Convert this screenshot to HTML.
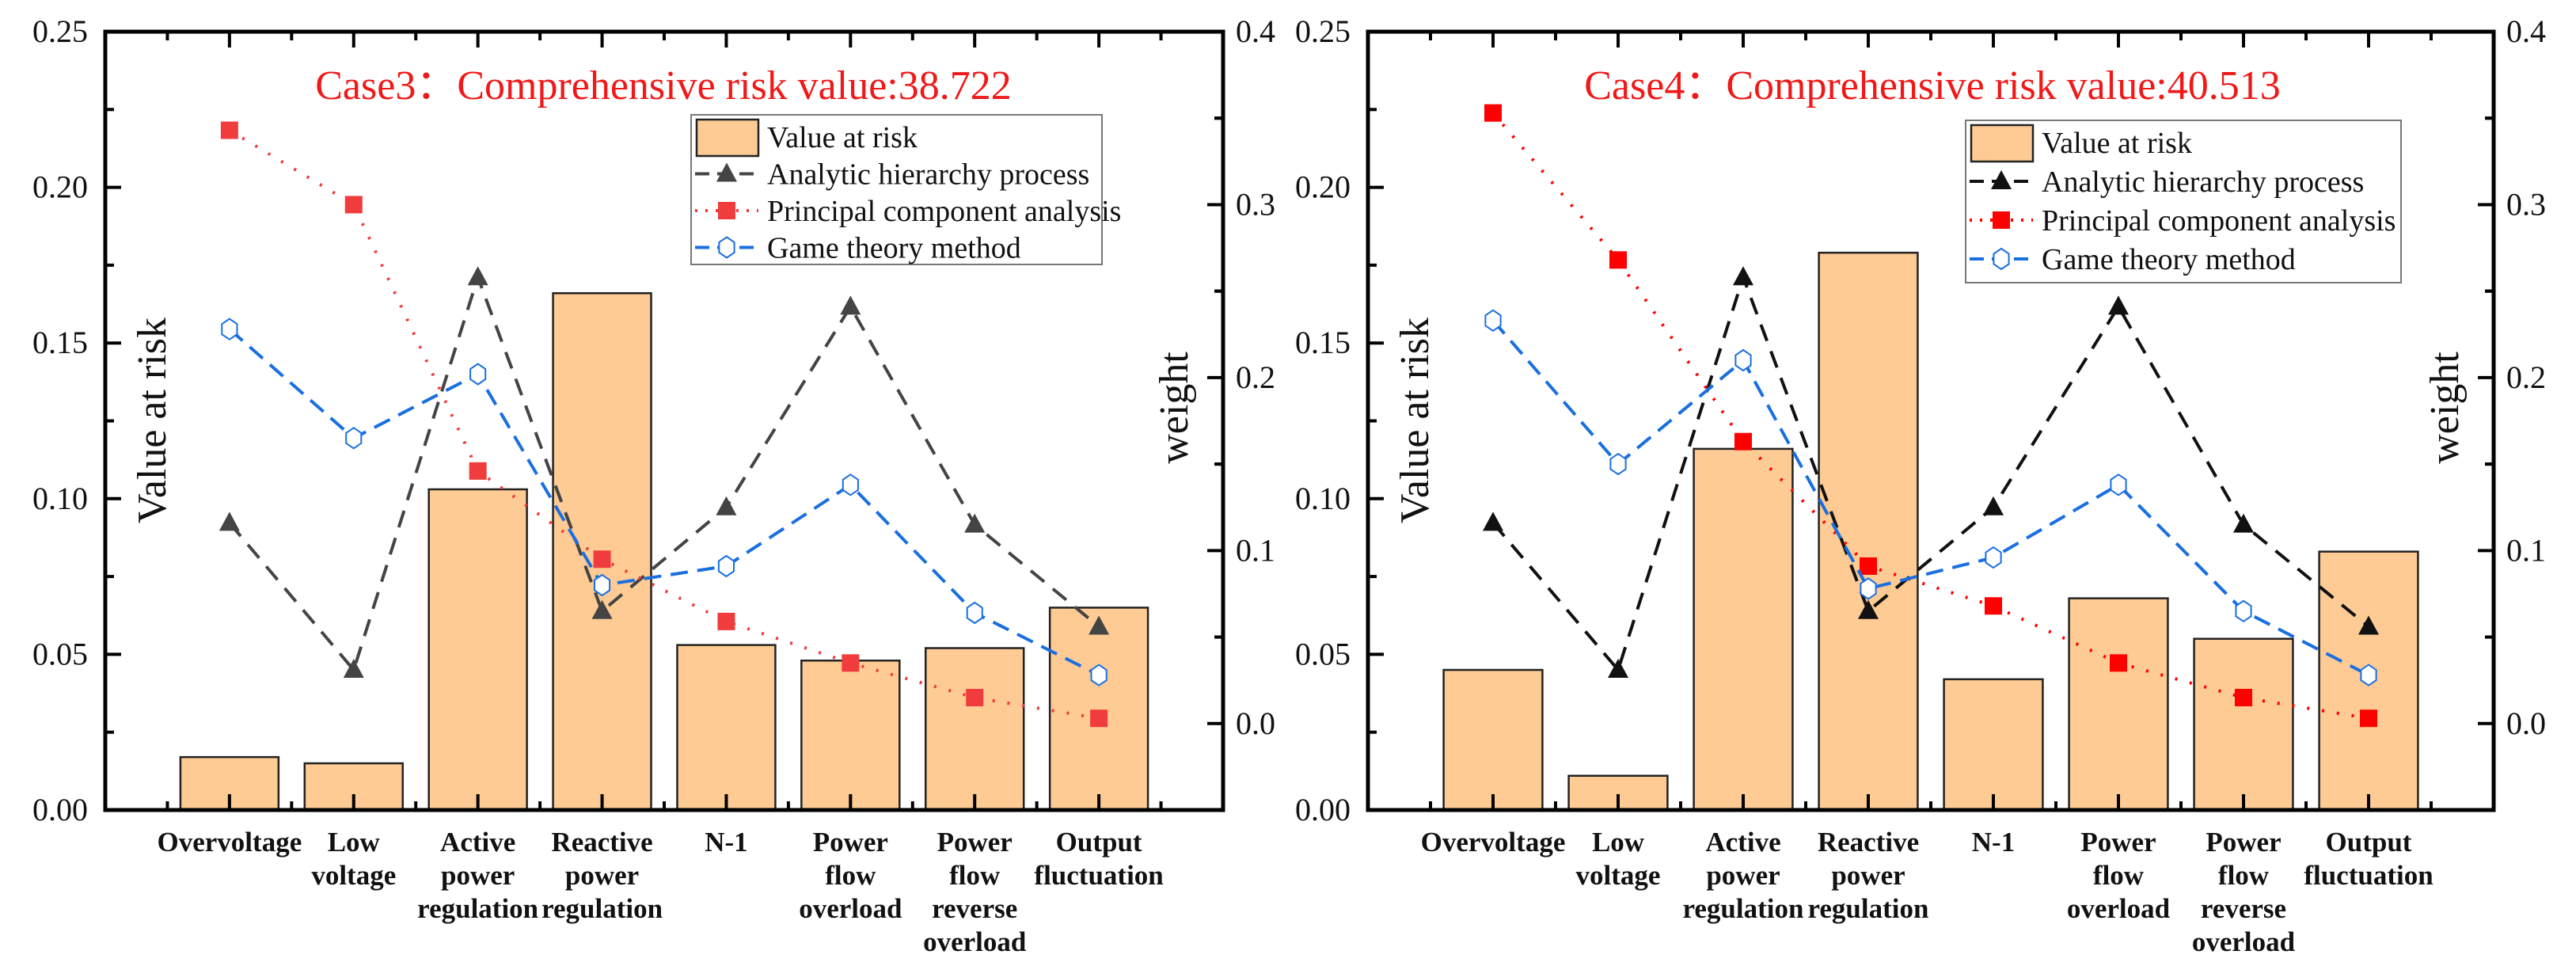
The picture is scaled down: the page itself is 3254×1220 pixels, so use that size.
<!DOCTYPE html>
<html><head><meta charset="utf-8"><style>
body{margin:0;background:#fff;}
svg{display:block;}
svg text{font-family:"Liberation Serif","Times New Roman","DejaVu Serif",serif;}
</style></head><body>
<svg id="chart" width="3254" height="1220" viewBox="0 0 3254 1220" xmlns="http://www.w3.org/2000/svg"></svg>
<script>
const categories = [["Overvoltage"],["Low","voltage"],["Active","power","regulation"],["Reactive","power","regulation"],["N-1"],["Power","flow","overload"],["Power","flow","reverse","overload"],["Output","fluctuation"]];
const leftTicks = ["0.00","0.05","0.10","0.15","0.20","0.25"];
const rightTicks = ["0.0","0.1","0.2","0.3","0.4"];
const case3Risk = [0.017,0.015,0.103,0.166,0.053,0.048,0.052,0.065];
const case3AHP = [0.116,0.031,0.258,0.065,0.125,0.241,0.115,0.056];
const case3PCA = [0.343,0.300,0.146,0.095,0.059,0.035,0.015,0.003];
const case3Game = [0.228,0.165,0.202,0.080,0.091,0.138,0.064,0.028];
const case4Risk = [0.045,0.011,0.116,0.179,0.042,0.068,0.055,0.083];
const case4AHP = [0.116,0.031,0.258,0.065,0.125,0.241,0.115,0.056];
const case4PCA = [0.353,0.268,0.163,0.091,0.068,0.035,0.015,0.003];
const case4Game = [0.233,0.150,0.210,0.078,0.096,0.138,0.065,0.028];
const titles = ["Case3：Comprehensive risk value:38.722","Case4：Comprehensive risk value:40.513"];

const FONT = '"Liberation Serif", "Noto Serif CJK SC", serif';
const svg = document.getElementById('chart');
const NS = "http://www.w3.org/2000/svg";
function mk(tag, attrs, parent, text){
  const e = document.createElementNS(NS, tag);
  if (tag === 'text') e.setAttribute('font-family', FONT);
  for (const k in attrs) e.setAttribute(k, attrs[k]);
  if (text !== undefined) e.textContent = text;
  (parent||svg).appendChild(e);
  return e;
}
function hexPts(cx,cy,r){
  let p=[];for(let i=0;i<6;i++){const a=Math.PI/6+i*Math.PI/3;p.push((cx+r*0.85*Math.cos(a)).toFixed(1)+","+(cy+r*Math.sin(a)).toFixed(1));}
  return p.join(" ");
}
function drawMarker(g, type, x, y, color){
  let m;
  if(type==='tri'){ m = mk('polygon',{points:`${x},${y-14} ${x-13},${y+10} ${x+13},${y+10}`,fill:color},g); }
  else if(type==='sq'){ m = mk('rect',{x:x-11,y:y-11,width:22,height:22,fill:color},g); }
  else { m = mk('polygon',{points:hexPts(x,y,13),fill:'#fff',stroke:color,'stroke-width':2},g); }
  return m;
}
function panel(cfg){
  const {L,R,T,B,risk,ahp,pca,game,title,ahpColor,pcaColor,pname,legend} = cfg;
  const g = mk('g',{});
  
  
  const xs = i => L + (R-L)*(i+1)/9;
  const yL = v => B - (B-T)*v/0.25;
  const yR = v => B - (B-T)*(v+0.05)/0.45;
  const bw = (R-L)/9*0.79;
  risk.forEach((v,i)=>{
    const r = mk('rect',{x:xs(i)-bw/2,y:yL(v),width:bw,height:B-yL(v),fill:'#FDCB93',stroke:'#222','stroke-width':2.5},g);
    
    
  });
  function series(vals,color,dash,type,name,width){
    const sg = mk('g',{},g);
    
    
    mk('polyline',{points:vals.map((v,i)=>xs(i)+","+yR(v)).join(" "),fill:'none',stroke:color,'stroke-width':width,'stroke-dasharray':dash},sg);
    vals.forEach((v,i)=>{const m=drawMarker(sg,type,xs(i),yR(v),color);
      
      });
  }
  series(ahp,ahpColor,'22,14','tri','ahp-series',4);
  series(pca,pcaColor,'3,16','sq','pca-series',4);
  series(game,'#1a6fe0','22,12','hex','game-series',4);
  const f = mk('rect',{x:L,y:T,width:R-L,height:B-T,fill:'none',stroke:'#000','stroke-width':5},g);
  
  
  for(let i=1;i<=17;i++){
    const x = L + (R-L)*i/18; const len = i%2===0?20:11;
    mk('line',{x1:x,y1:B,x2:x,y2:B-len,stroke:'#000','stroke-width':4},g);
    mk('line',{x1:x,y1:T,x2:x,y2:T+len,stroke:'#000','stroke-width':4},g);
  }
  leftTicks.forEach((t,i)=>{
    const v = i*0.05, y = yL(v);
    mk('line',{x1:L,y1:y,x2:L+20,y2:y,stroke:'#000','stroke-width':4},g);
    if(i<5){const ym=yL(v+0.025);mk('line',{x1:L,y1:ym,x2:L+11,y2:ym,stroke:'#000','stroke-width':4},g);}
    const tx = mk('text',{x:L-22,y:y+13,'font-size':40,'text-anchor':'end',fill:'#111'},g,t);
    
    
  });
  rightTicks.forEach((t,i)=>{
    const v = i*0.1, y = yR(v);
    mk('line',{x1:R,y1:y,x2:R-20,y2:y,stroke:'#000','stroke-width':4},g);
    [-0.05,0.05].forEach(d=>{const ym=yR(v+d);if(v+d>=-0.049&&v+d<=0.4)mk('line',{x1:R,y1:ym,x2:R-11,y2:ym,stroke:'#000','stroke-width':4},g);});
    const tx = mk('text',{x:R+16,y:y+13,'font-size':40,fill:'#111'},g,t);
    
    
  });
  categories.forEach((lines,i)=>{
    const tx = mk('text',{x:xs(i),y:1075,'font-size':35,'font-weight':'bold','text-anchor':'middle',fill:'#111'},g);
    
    
    lines.forEach((l,j)=>mk('tspan',{x:xs(i),dy:j===0?0:42},tx,l));
  });
  const ya = mk('text',{x:0,y:0,'font-size':52,'text-anchor':'middle',transform:`translate(${L+76},531) rotate(-90)`,fill:'#111'},g,'Value at risk');
  
  
  const yb = mk('text',{x:0,y:0,'font-size':52,'text-anchor':'middle',transform:`translate(${R-45},515) rotate(-90)`,fill:'#111'},g,'weight');
  
  
  const tt = mk('text',{x:cfg.tx,y:125,'font-size':52,'text-anchor':'middle',fill:'#f01818'},g,title);
  
  
  const lg = mk('g',{},g);
  
  
  const [lx,ly,lw,lh,step] = legend;
  mk('rect',{x:lx,y:ly,width:lw,height:lh,fill:'#fff',stroke:'#777','stroke-width':2},lg);
  const names=['Value at risk','Analytic hierarchy process','Principal component analysis','Game theory method'];
  names.forEach((n,i)=>{
    const cy = ly+28+i*step;
    const e = mk('g',{},lg);
    
    
    if(i===0) mk('rect',{x:lx+7,y:cy-22,width:78,height:46,fill:'#FDCB93',stroke:'#222','stroke-width':2.5},e);
    else {
      const col=[null,ahpColor,pcaColor,'#1a6fe0'][i];
      mk('line',{x1:lx+5,y1:cy,x2:lx+85,y2:cy,stroke:col,'stroke-width':4,'stroke-dasharray':i===2?'3,10':'18,10'},e);
      drawMarker(e,['','tri','sq','hex'][i],lx+45,cy,col);
    }
    mk('text',{x:lx+96,y:cy+13,'font-size':38,fill:'#111'},e,n);
  });
}
panel({L:133,R:1545,T:40,B:1023,risk:case3Risk,ahp:case3AHP,pca:case3PCA,game:case3Game,title:titles[0],ahpColor:'#444',pcaColor:'#f03c3c',pname:'case3-chart',tx:838,legend:[873,145,519,189,46.5]});
panel({L:1728,R:3150,T:40,B:1023,risk:case4Risk,ahp:case4AHP,pca:case4PCA,game:case4Game,title:titles[1],ahpColor:'#111',pcaColor:'#ff0000',pname:'case4-chart',tx:2441,legend:[2483,152,550,205,49]});
</script>
</body></html>
